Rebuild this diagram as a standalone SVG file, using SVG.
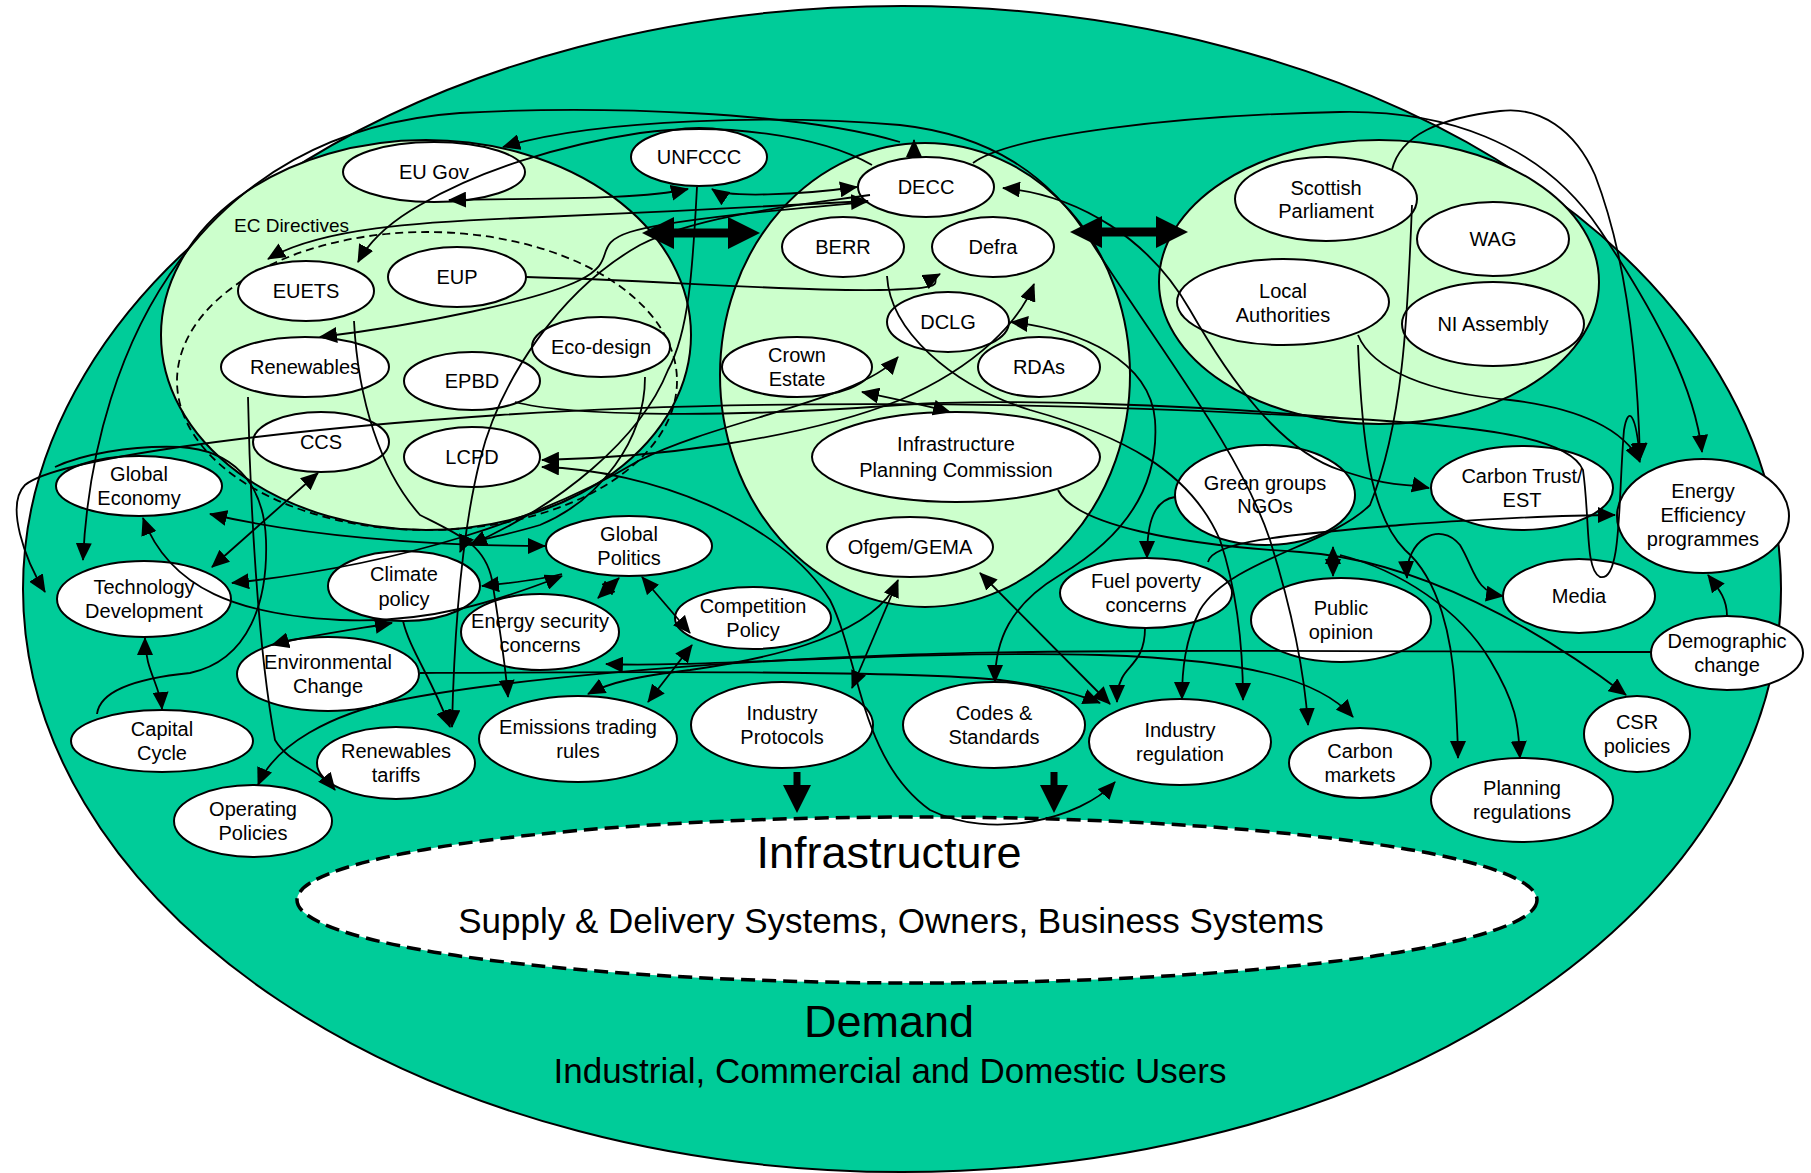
<svg xmlns="http://www.w3.org/2000/svg" width="1811" height="1173" viewBox="0 0 1811 1173">
<style>
.bg{fill:#00CC99;stroke:#000;stroke-width:2}
.lg{fill:#CCFFCC;stroke:#000;stroke-width:2}
.nd ellipse{fill:#fff;stroke:#000;stroke-width:2}
text{font-family:"Liberation Sans",Arial,sans-serif;fill:#000}
.nd text{font-size:20px;text-anchor:middle}
.cn path{fill:none;stroke:#000;stroke-width:1.8}
.e{marker-end:url(#ah)}
.s{marker-start:url(#ah)}
.thick{fill:#000;stroke:none}
.big{text-anchor:middle}
</style>
<defs>
<marker id="ah" viewBox="0 0 18 16" refX="17" refY="8" markerWidth="18" markerHeight="16" markerUnits="userSpaceOnUse" orient="auto-start-reverse"><path d="M0,0 L18,8 L0,16 z" fill="#000"/></marker>
</defs>
<rect width="1811" height="1173" fill="#fff"/>
<g id="background">
<ellipse class="bg" cx="902" cy="589" rx="879" ry="583"/>
<ellipse id="eu-circle" class="lg" cx="426" cy="335" rx="265" ry="195"/>
<ellipse id="uk-circle" class="lg" cx="925" cy="375" rx="205" ry="232"/>
<ellipse id="devolved-circle" class="lg" cx="1379" cy="282" rx="220" ry="142"/>
<ellipse id="ec-directives" cx="427" cy="381" rx="250" ry="149" fill="none" stroke="#000" stroke-width="1.8" stroke-dasharray="8,5"/>
<text x="234" y="232" font-size="19">EC Directives</text>
<ellipse id="infrastructure" cx="917" cy="900" rx="620" ry="83" fill="#fff" stroke="#000" stroke-width="3.5" stroke-dasharray="14,7"/>
<text class="big" x="889" y="868" font-size="45">Infrastructure</text>
<text class="big" x="891" y="933" font-size="35">Supply &amp; Delivery Systems, Owners, Business Systems</text>
<text class="big" x="889" y="1037" font-size="45">Demand</text>
<text class="big" x="890" y="1083" font-size="35">Industrial, Commercial and Domestic Users</text>
</g>
<g id="nodes" class="nd">
<g id="n-eugov"><ellipse cx="434" cy="172" rx="91" ry="30"/><text x="434" y="179">EU Gov</text></g>
<g id="n-unfccc"><ellipse cx="699" cy="157" rx="68" ry="29"/><text x="699" y="164">UNFCCC</text></g>
<g id="n-euets"><ellipse cx="306" cy="291" rx="68" ry="30"/><text x="306" y="298">EUETS</text></g>
<g id="n-eup"><ellipse cx="457" cy="277" rx="69" ry="30"/><text x="457" y="284">EUP</text></g>
<g id="n-renewables"><ellipse cx="305" cy="367" rx="84" ry="30"/><text x="305" y="374">Renewables</text></g>
<g id="n-ecodesign"><ellipse cx="601" cy="347" rx="69" ry="30"/><text x="601" y="354">Eco-design</text></g>
<g id="n-epbd"><ellipse cx="472" cy="381" rx="68" ry="29"/><text x="472" y="388">EPBD</text></g>
<g id="n-ccs"><ellipse cx="321" cy="442" rx="68" ry="30"/><text x="321" y="449">CCS</text></g>
<g id="n-lcpd"><ellipse cx="472" cy="457" rx="68" ry="30"/><text x="472" y="464">LCPD</text></g>
<g id="n-decc"><ellipse cx="926" cy="187" rx="68" ry="30"/><text x="926" y="194">DECC</text></g>
<g id="n-berr"><ellipse cx="843" cy="247" rx="61" ry="30"/><text x="843" y="254">BERR</text></g>
<g id="n-defra"><ellipse cx="993" cy="247" rx="61" ry="30"/><text x="993" y="254">Defra</text></g>
<g id="n-dclg"><ellipse cx="948" cy="322" rx="61" ry="30"/><text x="948" y="329">DCLG</text></g>
<g id="n-rdas"><ellipse cx="1039" cy="367" rx="61" ry="30"/><text x="1039" y="374">RDAs</text></g>
<g id="n-crown"><ellipse cx="797" cy="367" rx="75" ry="30"/><text x="797" y="362">Crown</text><text x="797" y="386">Estate</text></g>
<g id="n-ipc"><ellipse cx="956" cy="457" rx="144" ry="45"/><text x="956" y="451">Infrastructure</text><text x="956" y="477">Planning Commission</text></g>
<g id="n-ofgem"><ellipse cx="910" cy="547" rx="83" ry="30"/><text x="910" y="554">Ofgem/GEMA</text></g>
<g id="n-scottish"><ellipse cx="1326" cy="199" rx="91" ry="42"/><text x="1326" y="195">Scottish</text><text x="1326" y="218">Parliament</text></g>
<g id="n-wag"><ellipse cx="1493" cy="239" rx="76" ry="37"/><text x="1493" y="246">WAG</text></g>
<g id="n-la"><ellipse cx="1283" cy="302" rx="106" ry="43"/><text x="1283" y="298">Local</text><text x="1283" y="322">Authorities</text></g>
<g id="n-ni"><ellipse cx="1493" cy="324" rx="91" ry="42"/><text x="1493" y="331">NI Assembly</text></g>
<g id="n-ge"><ellipse cx="139" cy="486" rx="83" ry="30"/><text x="139" y="481">Global</text><text x="139" y="505">Economy</text></g>
<g id="n-td"><ellipse cx="144" cy="599" rx="87" ry="38"/><text x="144" y="594">Technology</text><text x="144" y="618">Development</text></g>
<g id="n-cc"><ellipse cx="162" cy="741" rx="91" ry="31"/><text x="162" y="736">Capital</text><text x="162" y="760">Cycle</text></g>
<g id="n-cp"><ellipse cx="404" cy="586" rx="76" ry="35"/><text x="404" y="581">Climate</text><text x="404" y="606">policy</text></g>
<g id="n-env"><ellipse cx="328" cy="674" rx="91" ry="37"/><text x="328" y="669">Environmental</text><text x="328" y="693">Change</text></g>
<g id="n-rt"><ellipse cx="396" cy="763" rx="79" ry="36"/><text x="396" y="758">Renewables</text><text x="396" y="782">tariffs</text></g>
<g id="n-op"><ellipse cx="253" cy="821" rx="79" ry="36"/><text x="253" y="816">Operating</text><text x="253" y="840">Policies</text></g>
<g id="n-gp"><ellipse cx="629" cy="546" rx="83" ry="30"/><text x="629" y="541">Global</text><text x="629" y="565">Politics</text></g>
<g id="n-es"><ellipse cx="540" cy="632" rx="79" ry="38"/><text x="540" y="628">Energy security</text><text x="540" y="652">concerns</text></g>
<g id="n-comp"><ellipse cx="753" cy="618" rx="78" ry="31"/><text x="753" y="613">Competition</text><text x="753" y="637">Policy</text></g>
<g id="n-etr"><ellipse cx="578" cy="739" rx="99" ry="43"/><text x="578" y="734">Emissions trading</text><text x="578" y="758">rules</text></g>
<g id="n-ip"><ellipse cx="782" cy="725" rx="91" ry="43"/><text x="782" y="720">Industry</text><text x="782" y="744">Protocols</text></g>
<g id="n-cs"><ellipse cx="994" cy="725" rx="91" ry="43"/><text x="994" y="720">Codes &amp;</text><text x="994" y="744">Standards</text></g>
<g id="n-ir"><ellipse cx="1180" cy="742" rx="91" ry="43"/><text x="1180" y="737">Industry</text><text x="1180" y="761">regulation</text></g>
<g id="n-fp"><ellipse cx="1146" cy="593" rx="86" ry="35"/><text x="1146" y="588">Fuel poverty</text><text x="1146" y="612">concerns</text></g>
<g id="n-gg"><ellipse cx="1265" cy="495" rx="90" ry="50"/><text x="1265" y="490">Green groups</text><text x="1265" y="513">NGOs</text></g>
<g id="n-po"><ellipse cx="1341" cy="620" rx="90" ry="42"/><text x="1341" y="615">Public</text><text x="1341" y="639">opinion</text></g>
<g id="n-cm"><ellipse cx="1360" cy="763" rx="71" ry="35"/><text x="1360" y="758">Carbon</text><text x="1360" y="782">markets</text></g>
<g id="n-ct"><ellipse cx="1522" cy="488" rx="91" ry="42"/><text x="1522" y="483">Carbon Trust/</text><text x="1522" y="507">EST</text></g>
<g id="n-eep"><ellipse cx="1703" cy="516" rx="86" ry="57"/><text x="1703" y="498">Energy</text><text x="1703" y="522">Efficiency</text><text x="1703" y="546">programmes</text></g>
<g id="n-media"><ellipse cx="1579" cy="596" rx="76" ry="37"/><text x="1579" y="603">Media</text></g>
<g id="n-demo"><ellipse cx="1727" cy="653" rx="76" ry="37"/><text x="1727" y="648">Demographic</text><text x="1727" y="672">change</text></g>
<g id="n-csr"><ellipse cx="1637" cy="734" rx="53" ry="38"/><text x="1637" y="729">CSR</text><text x="1637" y="753">policies</text></g>
<g id="n-plan"><ellipse cx="1522" cy="800" rx="91" ry="42"/><text x="1522" y="795">Planning</text><text x="1522" y="819">regulations</text></g>
</g>
<g id="connectors" class="cn">
<path class="s e" d="M449 200 C540 198 640 200 688 189"/>
<path class="s e" d="M712 189 C725 198 800 195 857 187"/>
<path class="s e" d="M268 259 C320 228 420 222 520 218 S800 205 868 201"/>
<path class="s" d="M320 337 C420 325 540 300 580 280 S590 245 630 232 S800 208 868 202"/>
<path class="e" d="M870 195 C800 205 700 215 640 245 C560 290 500 380 480 460 C460 540 454 640 452 727"/>
<path class="e" d="M872 165 C820 135 720 122 640 133 C560 145 480 170 420 205 C390 222 370 240 358 262"/>
<path class="s e" d="M503 147 C600 118 780 115 900 125 C990 135 1050 175 1090 240 C1160 350 1240 450 1270 540 C1295 620 1305 680 1308 725"/>
<path class="e" d="M914 158 L914 140"/>
<path class="e" d="M900 142 C800 112 600 105 460 113 C330 122 240 180 180 260 C120 340 88 450 83 560"/>
<path class="e" d="M973 163 C1010 135 1180 115 1340 112 C1440 110 1540 140 1600 230 C1660 320 1695 390 1702 452"/>
<path class="e" d="M1392 170 C1400 135 1440 118 1500 111 C1540 106 1575 130 1595 175 C1620 240 1637 330 1640 460"/>
<path class="s e" d="M1003 188 C1080 195 1150 240 1190 310 C1230 380 1280 450 1340 470 S1400 482 1429 488"/>
<path class="e" d="M887 276 C890 330 950 385 1030 410 C1120 435 1190 470 1220 540 C1240 600 1243 660 1243 700"/>
<path class="s e" d="M1011 322 C1080 330 1150 360 1155 420 C1160 490 1120 540 1060 575 C1010 605 995 640 995 682"/>
<path class="e" d="M526 277 C650 280 800 292 880 290 S925 282 940 274"/>
<path class="s e" d="M232 583 C400 565 540 520 640 460 C720 420 860 400 898 357"/>
<path class="s e" d="M542 460 C650 458 800 440 900 400 C980 365 1020 320 1034 284"/>
<path class="s e" d="M542 467 C650 470 780 520 830 600 C860 660 860 760 930 810 C990 840 1080 820 1115 782"/>
<path class="s e" d="M862 392 C890 398 920 404 950 412"/>
<path class="s e" d="M210 514 C300 535 420 546 545 546"/>
<path class="s e" d="M143 518 C170 590 240 615 340 620 C430 624 500 600 562 576"/>
<path class="s" d="M482 586 C510 583 540 580 562 574"/>
<path class="s e" d="M598 598 L619 578"/>
<path class="s e" d="M642 577 L690 633"/>
<path class="s e" d="M692 645 L648 702"/>
<path class="s e" d="M898 580 L852 688"/>
<path class="e" d="M893 590 C860 640 760 660 690 670 C640 676 610 682 588 694"/>
<path class="s e" d="M980 573 L1110 704"/>
<path class="e" d="M1145 628 C1145 660 1128 665 1122 678 S1117 695 1117 702"/>
<path class="e" d="M1175 497 C1155 500 1147 520 1147 558"/>
<path class="s e" d="M1333 547 L1333 576"/>
<path class="e" d="M1412 205 C1408 300 1405 420 1370 505 C1330 545 1230 560 1200 610 C1185 640 1182 670 1182 699"/>
<path class="e" d="M1208 562 C1212 540 1300 534 1400 525 C1500 518 1570 515 1615 515"/>
<path class="s e" d="M1407 578 C1405 540 1440 520 1460 545 C1475 570 1475 592 1503 596"/>
<path class="e" d="M1358 335 C1372 370 1430 393 1510 400 C1580 408 1625 430 1640 462"/>
<path class="e" d="M1358 345 C1362 440 1370 515 1405 550 C1440 580 1452 640 1455 690 S1458 740 1458 758"/>
<path class="e" d="M1058 490 C1075 525 1180 545 1300 552 C1420 560 1540 630 1626 695"/>
<path class="e" d="M1340 555 C1400 570 1460 610 1490 660 S1518 730 1520 758"/>
<path class="e" d="M1727 616 C1727 598 1718 588 1708 575"/>
<path class="e" d="M1652 652 C1400 652 1100 648 900 655 C700 662 500 680 400 700 C330 714 275 745 258 785"/>
<path class="e" d="M420 673 C600 672 900 670 1000 680 C1050 686 1080 695 1100 703"/>
<path class="s e" d="M606 664 C700 668 900 650 1100 655 C1250 660 1320 680 1353 717"/>
<path class="s e" d="M392 623 C350 630 300 637 272 645"/>
<path class="e" d="M403 621 C410 650 430 675 450 727"/>
<path class="e" d="M248 397 C250 500 258 650 275 740 C290 765 315 765 335 790"/>
<path class="e" d="M354 321 C358 400 380 470 420 515 C460 535 485 545 492 580 C500 630 505 660 508 697"/>
<path class="e" d="M645 377 C645 440 600 500 540 525 C490 540 465 540 460 552"/>
<path class="e" d="M697 187 C693 260 690 330 668 370 C640 440 560 505 470 545"/>
<path class="s e" d="M212 567 L318 473"/>
<path class="s e" d="M145 638 C145 670 160 685 162 709"/>
<path d="M97 714 C100 690 140 678 190 673 C250 660 268 600 266 540 C264 480 230 450 180 447 C130 445 80 455 55 467"/>
<path class="s e" d="M45 592 C25 560 5 505 25 485 C55 460 250 432 500 415 C700 402 1000 398 1340 418 C1500 427 1570 440 1583 470 C1590 520 1585 570 1600 577 C1622 582 1618 500 1624 430 C1628 405 1636 412 1640 460"/>
<path d="M515 402 C560 414 700 420 900 405 C1000 398 1200 405 1340 418"/>
<polygon class="thick" points="642,233 674,217 674,228.5 728,228.5 728,217 760,233 728,249 728,237.5 674,237.5 674,249"/>
<polygon class="thick" points="1070,232 1102,216 1102,227.5 1156,227.5 1156,216 1188,232 1156,248 1156,236.5 1102,236.5 1102,248"/>
<polygon class="thick" points="793.5,772 800.5,772 800.5,785 811,785 797,813 783,785 793.5,785"/>
<polygon class="thick" points="1050.5,772 1057.5,772 1057.5,785 1068,785 1054,813 1040,785 1050.5,785"/>
</g>
</svg>
